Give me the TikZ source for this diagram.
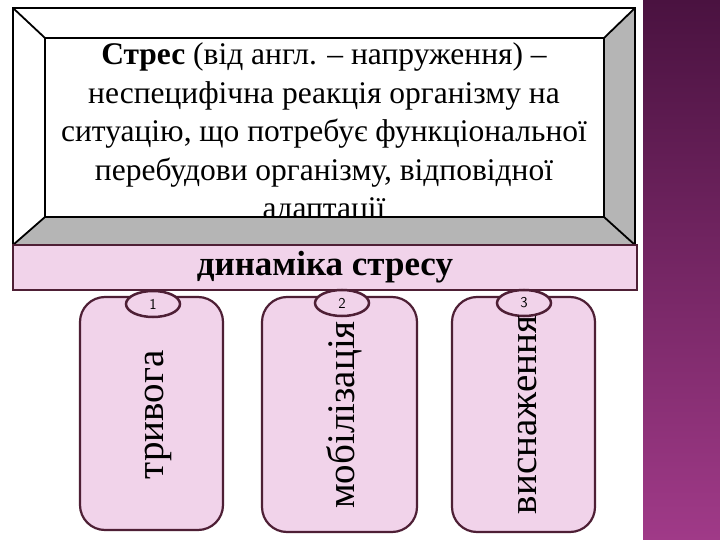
\documentclass[tikz,border=0pt]{standalone}
\usepackage{fontspec}
\setmainfont{Liberation Serif}
\usetikzlibrary{shapes.geometric}
\definecolor{pinkf}{HTML}{F1D3EA}
\definecolor{plum}{HTML}{4E1F35}
\definecolor{bevg}{HTML}{B5B5B5}
\definecolor{stripA}{HTML}{4A1240}
\definecolor{stripB}{HTML}{A03A88}
\begin{document}
\begin{tikzpicture}[x=1pt,y=-1pt,
  tab/.style={fill=pinkf,draw=plum,line width=2.2pt,rounded corners=25pt},
  num/.style={ellipse,draw=plum,line width=2.5pt,fill=pinkf,minimum width=54pt,minimum height=26pt,inner sep=0pt,font=\fontsize{15}{15}\selectfont\sffamily},
  vtxt/.style={rotate=90,font=\fontsize{39}{39}\selectfont}]
\useasboundingbox (0,0) rectangle (720,540);
\fill[white] (0,0) rectangle (720,540);
\shade[top color=stripA,bottom color=stripB] (643,0) rectangle (720,540);
% bevel frame
\fill[white] (13,8) -- (635,8) -- (604,38) -- (45,38) -- (45,217) -- (13,245) -- cycle;
\fill[bevg] (635,8) -- (635,245) -- (13,245) -- (45,217) -- (604,217) -- (604,38) -- cycle;
\begin{scope}
\clip (45,38) rectangle (604,217);
\node[align=center,font=\fontsize{31.5}{38.5}\selectfont,inner sep=0pt] (title) at (324,134)
 {\textbf{Стрес} (від англ. – напруження) –\\неспецифічна реакція організму на\\ситуацію, що потребує функціональної\\перебудови організму, відповідної\\адаптації};
\end{scope}
\draw[line width=2.5pt,black] (13,8) rectangle (635,245);
\draw[line width=2.5pt,black] (45,38) rectangle (604,217);
\draw[line width=1.8pt] (13,8) -- (45,38) (635,8) -- (604,38) (13,245) -- (45,217) (635,245) -- (604,217);
% band
\draw[fill=pinkf,draw=plum,line width=2pt] (13,245) rectangle (637,290);
\node[font=\bfseries\fontsize{35}{35}\selectfont] (band) at (325,267) {динаміка стресу};
% tabs
\draw[tab] (80,530) -- (80,297) -- (223,297) -- (223,530) -- cycle;
\draw[tab] (262,532) -- (262,297) -- (417,297) -- (417,532) -- cycle;
\draw[tab] (452,532) -- (452,297) -- (595,297) -- (595,532) -- cycle;
\node[num] (n1) at (153,304) {1};
\node[num] (n2) at (342,303) {2};
\node[num] (n3) at (524,303) {3};
\node[vtxt] (t1) at (158,415) {тривога};
\node[vtxt] (t2) at (344,415) {мобілізація};
\node[vtxt] (t3) at (527,415) {виснаження};
\end{tikzpicture}
\end{document}
